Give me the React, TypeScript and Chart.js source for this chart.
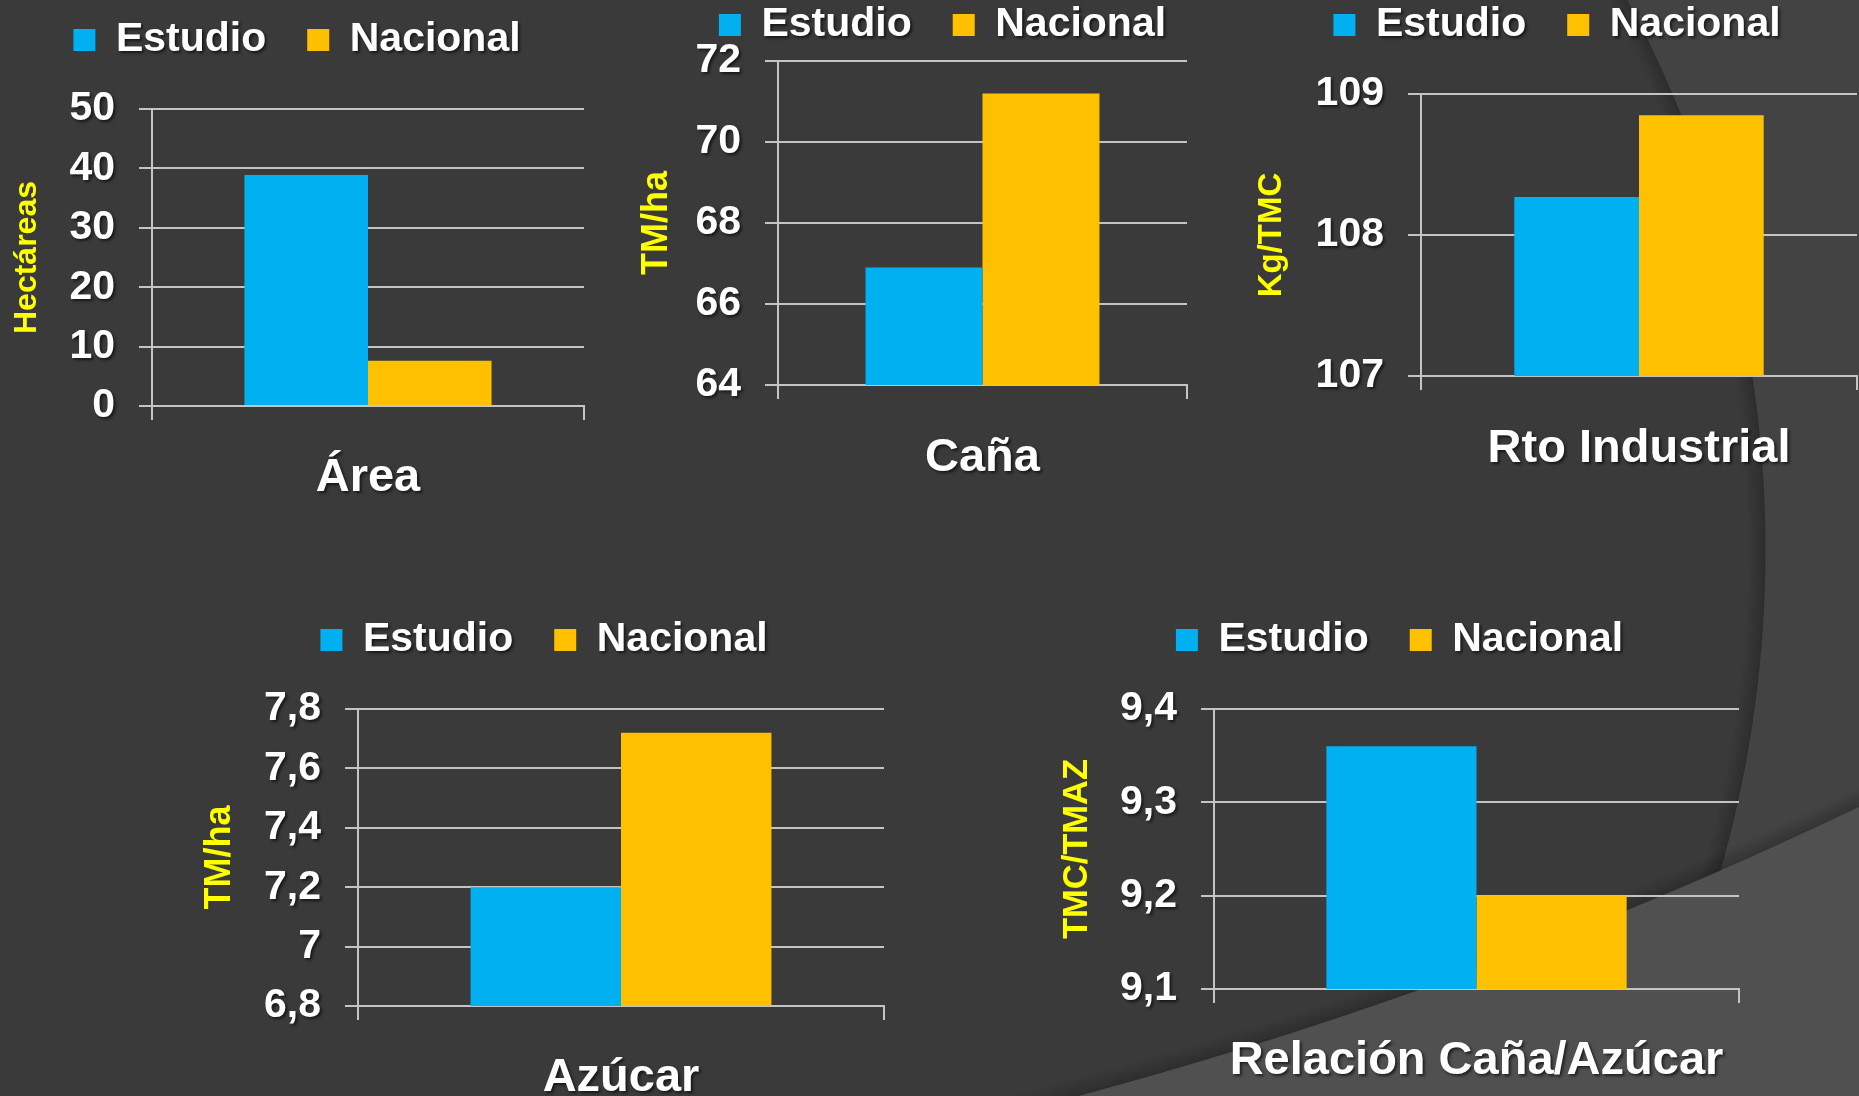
import React, { useEffect, useRef } from 'react';
import { Chart, registerables } from 'chart.js';

Chart.register(...registerables);

const FONT = "'Liberation Sans', Arial, Helvetica, sans-serif";

// ---------------- data ----------------
const seriesNames = ['Estudio', 'Nacional'];
const categories = ['Área', 'Caña', 'Rto Industrial', 'Azúcar', 'Relación Caña/Azúcar'];
const estudioValues = [38.9, 66.9, 108.27, 7.2, 9.36];
const nacionalValues = [7.6, 71.2, 108.85, 7.72, 9.2];
const yAxisTitles = ['Hectáreas', 'TM/ha', 'Kg/TMC', 'TM/ha', 'TMC/TMAZ'];
const yMin = [0, 64, 107, 6.8, 9.1];
const yMax = [50, 72, 109, 7.8, 9.4];
const yStep = [10, 2, 1, 0.2, 0.1];

// ---------------- styles ----------------
const BLUE = '#00B0F0';
const GOLD = '#FFC000';
const GRID = '#C4C4C4';
const YELLOW = '#FFFF00';
const WHITE = '#ffffff';

// panel geometry: chart area [left, right, top, bottom] and text anchors (page pixels)
const LAYOUT = [
  { area: [152, 584, 109, 406], legendCx: 297, legendMid: 40, titleCx: 27, titleFs: 32, tickRight: 115, xFs: 47, xBase: 492, extraRight: 0 },
  { area: [778, 1187, 61, 385], legendCx: 942.5, legendMid: 25, titleCx: 657, titleFs: 36, tickRight: 741, xFs: 47, xBase: 472, extraRight: 30 },
  { area: [1421, 1857, 94, 376], legendCx: 1557, legendMid: 25, titleCx: 1272, titleFs: 33, tickRight: 1384, xFs: 47, xBase: 463, extraRight: 0 },
  { area: [358, 884, 709, 1006], legendCx: 544, legendMid: 640, titleCx: 220, titleFs: 36, tickRight: 321, xFs: 47, xBase: 1092, extraRight: 0 },
  { area: [1214, 1739, 709, 989], legendCx: 1399.5, legendMid: 640, titleCx: 1077, titleFs: 34.5, tickRight: 1177, xFs: 47, xBase: 1075, extraRight: 0 },
];

const fmt = (v: number | string) => String(Math.round(Number(v) * 100) / 100).replace('.', ',');

function Panel({ i }: { i: number }) {
  const ref = useRef<HTMLCanvasElement>(null);
  const p = LAYOUT[i];
  const [L, R, T, B] = p.area;
  const F = 41;
  const P = 41;
  const YTL = 13;
  const XTL = 14;
  const XH = 110;
  const PADR = 40;
  const legendTop = p.legendMid - P - F / 2;
  const canvasT = Math.floor(legendTop);
  const padTop = legendTop - canvasT;
  const legendRight = R + p.extraRight;
  const Lc = 2 * p.legendCx - legendRight;
  const canvasL = Math.floor(Math.min(Lc, p.titleCx - p.titleFs)) - 10;
  const padL = Lc - canvasL;
  const canvasR = legendRight + PADR;
  const W = canvasR - canvasL;
  const H = B + XH - canvasT;
  const spacer = T - legendTop - (F + P + 10);
  const tp = p.titleCx - Lc - 0.6 * p.titleFs;
  const xpad = p.xBase - 0.3 * p.xFs - B - XTL - 0.6 * p.xFs;

  useEffect(() => {
    const canvas = ref.current;
    if (!canvas) return;
    const ctx = canvas.getContext('2d') as CanvasRenderingContext2D;
    const orig = ctx.fillText;
    (ctx as any).fillText = function (text: string, x: number, y: number, mw?: number) {
      const fs = String(this.fillStyle).toLowerCase();
      if (fs === '#ffffff') {
        this.save();
        this.shadowColor = 'rgba(0,0,0,0.6)';
        this.shadowOffsetX = 2;
        this.shadowOffsetY = 2;
        this.shadowBlur = 3;
        orig.call(this, text, x, y, mw);
        this.restore();
      } else {
        orig.call(this, text, x, y, mw);
      }
    };

    const scales: any = {
      x: {
        type: 'category',
        position: 'bottom',
        offset: true,
        ticks: {
          color: WHITE,
          font: { family: FONT, size: p.xFs, weight: 'bold' },
          padding: xpad,
          maxRotation: 0,
          minRotation: 0,
          autoSkip: false,
        },
        grid: { display: true, drawOnChartArea: false, drawTicks: true, tickLength: XTL, color: GRID, lineWidth: 2, offset: true },
        border: { display: true, color: GRID, width: 2 },
        afterFit: (s: any) => { s.height = XH; },
      },
      y: {
        type: 'linear',
        position: 'left',
        min: yMin[i],
        max: yMax[i],
        ticks: {
          stepSize: yStep[i],
          color: WHITE,
          font: { family: FONT, size: 41, weight: 'bold' },
          padding: L - YTL - p.tickRight,
          callback: (v: number) => fmt(v),
        },
        grid: { color: GRID, lineWidth: 2, drawTicks: true, tickLength: YTL, drawOnChartArea: true },
        border: { display: true, color: GRID, width: 2 },
        title: {
          display: true,
          text: yAxisTitles[i],
          color: YELLOW,
          font: { family: FONT, size: p.titleFs, weight: 'bold' },
          padding: { top: tp, bottom: 0 },
        },
        afterFit: (s: any) => { s.width = L - Lc; },
      },
    };
    if (p.extraRight > 0) {
      scales.y2 = {
        type: 'linear',
        position: 'right',
        display: true,
        ticks: { display: false },
        grid: { display: false, drawTicks: false },
        border: { display: false },
        afterFit: (s: any) => { s.width = p.extraRight; },
      };
    }

    const chart = new Chart(ctx, {
      type: 'bar',
      data: {
        labels: [categories[i]],
        datasets: [
          { label: seriesNames[0], data: [estudioValues[i]], backgroundColor: BLUE, borderWidth: 0, categoryPercentage: 0.572, barPercentage: 1 },
          { label: seriesNames[1], data: [nacionalValues[i]], backgroundColor: GOLD, borderWidth: 0, categoryPercentage: 0.572, barPercentage: 1 },
        ],
      },
      options: {
        responsive: false,
        maintainAspectRatio: false,
        animation: false,
        events: [],
        layout: { padding: { left: padL, right: PADR, top: padTop, bottom: 0 } },
        plugins: {
          tooltip: { enabled: false },
          legend: {
            display: true,
            position: 'top',
            align: 'center',
            labels: {
              color: WHITE,
              font: { family: FONT, size: F, weight: 'bold' },
              boxWidth: 22,
              boxHeight: 22,
              padding: P,
            },
          },
          title: {
            display: true,
            text: ' ',
            position: 'top',
            weight: 500,
            font: { family: FONT, size: 2 },
            padding: { top: Math.max(spacer - 2.4, 0), bottom: 0 },
          },
        },
        scales,
      } as any,
    });
    return () => {
      chart.destroy();
      (ctx as any).fillText = orig;
    };
  }, [i]);

  return (
    <canvas
      ref={ref}
      width={W}
      height={H}
      style={{ position: 'absolute', left: canvasL, top: canvasT, width: W, height: H }}
    />
  );
}

const BACKGROUND = [
  'radial-gradient(circle 4517px at -93px -3266px, rgba(0,0,0,0) 4498px, rgba(0,0,0,0.22) 4516px, #505050 4517px)',
  'radial-gradient(circle 1165px at 601px 550px, rgba(0,0,0,0) 1146px, rgba(0,0,0,0.22) 1164px, #434343 1165px)',
  '#3A3A3A',
].join(', ');

export default function App() {
  return (
    <div
      style={{
        position: 'fixed',
        left: 0,
        top: 0,
        width: 1859,
        height: 1096,
        overflow: 'hidden',
        background: BACKGROUND,
      }}
    >
      {LAYOUT.map((_, i) => (
        <Panel key={i} i={i} />
      ))}
    </div>
  );
}
